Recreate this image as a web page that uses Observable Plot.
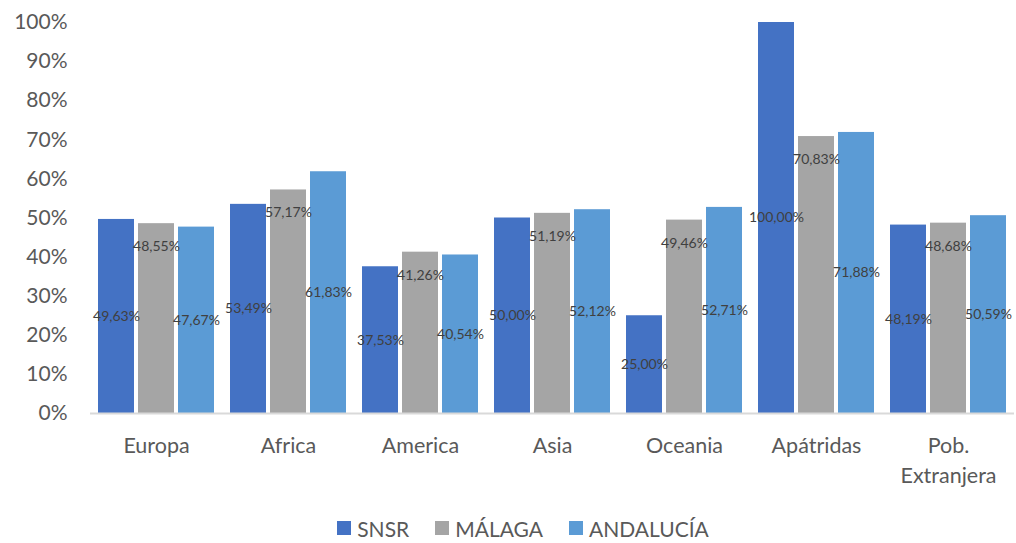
<!DOCTYPE html>
<html>
<head>
<meta charset="utf-8">
<script src="https://cdn.jsdelivr.net/npm/d3@7"></script>
<script src="https://cdn.jsdelivr.net/npm/@observablehq/plot@0.6"></script>
<style>
  html, body { margin: 0; padding: 0; background: #fff; }
  #chart { width: 1016px; height: 543px; position: relative; font-family: Lato, "Noto Sans", sans-serif; }
  .legend { display: flex; justify-content: center; align-items: center; gap: 26px; height: 38px; padding-left: 30px; padding-top: 4px; font-size: 21px; color: #595959; }
  .legend .item { display: flex; align-items: center; gap: 6px; }
  .legend .sw { width: 14px; height: 14px; display: inline-block; }
</style>
</head>
<body>
<div id="chart"></div>
<script>
const categories = ["Europa", "Africa", "America", "Asia", "Oceania", "Apátridas", "Pob. Extranjera"];
const series = ["SNSR", "MÁLAGA", "ANDALUCÍA"];
const colors = ["#4472C4", "#A5A5A5", "#5B9BD5"];
const snsr = [49.63, 53.49, 37.53, 50.00, 25.00, 100.00, 48.19];
const malaga = [48.55, 57.17, 41.26, 51.19, 49.46, 70.83, 48.68];
const andalucia = [47.67, 61.83, 40.54, 52.12, 52.71, 71.88, 50.59];
const yTicks = [0, 10, 20, 30, 40, 50, 60, 70, 80, 90, 100];

const seriesValues = [snsr, malaga, andalucia];
const data = [];
categories.forEach((c, i) => {
  series.forEach((s, j) => data.push({cat: c, series: s, value: seriesValues[j][i]}));
});
const fmt = v => v.toFixed(2).replace(".", ",") + "%";

const plot = Plot.plot({
  width: 1016,
  height: 505,
  marginLeft: 89,
  marginRight: 2,
  marginTop: 22,
  marginBottom: 92,
  style: {fontFamily: "Lato, 'Noto Sans', sans-serif", fontSize: "20px", color: "#595959", background: "#fff"},
  y: {domain: [0, 100], label: null},
  fx: {domain: categories, paddingInner: 0.1225, paddingOuter: 0.061, label: null},
  x: {domain: series, paddingInner: 0.1, paddingOuter: 0, axis: null},
  color: {domain: series, range: colors},
  marks: [
    Plot.axisY({ticks: yTicks, tickFormat: d => d + "%", tickSize: 0, tickPadding: 31, label: null, fontSize: 21, fill: "#595959"}),
    Plot.axisFx({anchor: "bottom", tickSize: 0, tickPadding: 18, label: null, fontSize: 21.5, fill: "#595959", lineHeight: 1.4,
      tickFormat: d => d.replace(" ", "\n")}),
    Plot.barY(data, {fx: "cat", x: "series", y: "value", fill: "series"}),
    Plot.ruleY([0], {stroke: "#D9D9D9", strokeWidth: 2, insetLeft: -8, insetRight: -8}),
    Plot.text(data.filter(d => d.series !== "MÁLAGA"), {fx: "cat", x: "series", y: d => d.value / 2, text: d => fmt(d.value), fill: "#404040", fontSize: 14}),
    Plot.text(data.filter(d => d.series === "MÁLAGA"), {fx: "cat", x: "series", y: "value", dy: 23, text: d => fmt(d.value), fill: "#404040", fontSize: 14})
  ]
});

const root = document.getElementById("chart");
root.appendChild(plot);
const legend = document.createElement("div");
legend.className = "legend";
series.forEach((s, i) => {
  const item = document.createElement("div");
  item.className = "item";
  const sw = document.createElement("span");
  sw.className = "sw";
  sw.style.background = colors[i];
  const t = document.createElement("span");
  t.textContent = s;
  item.appendChild(sw);
  item.appendChild(t);
  legend.appendChild(item);
});
root.appendChild(legend);
</script>
</body>
</html>
